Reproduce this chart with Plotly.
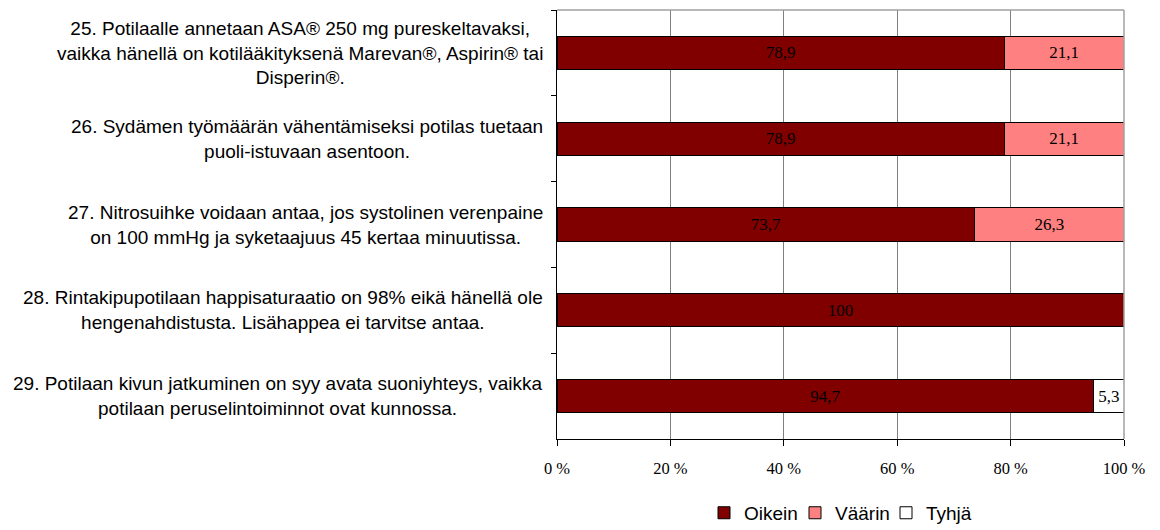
import plotly.graph_objects as go

categories = ["25", "26", "27", "28", "29"]
labels = [
    "25. Potilaalle annetaan ASA® 250 mg pureskeltavaksi,<br>vaikka hänellä on kotilääkityksenä Marevan®, Aspirin® tai<br>Disperin®.",
    "26. Sydämen työmäärän vähentämiseksi potilas tuetaan<br>puoli-istuvaan asentoon.",
    "27. Nitrosuihke voidaan antaa, jos systolinen verenpaine<br>on 100 mmHg ja syketaajuus 45 kertaa minuutissa.",
    "28. Rintakipupotilaan happisaturaatio on 98% eikä hänellä ole<br>hengenahdistusta. Lisähappea ei tarvitse antaa.",
    "29. Potilaan kivun jatkuminen on syy avata suoniyhteys, vaikka<br>potilaan peruselintoiminnot ovat kunnossa.",
]
oikein = [78.9, 78.9, 73.7, 100, 94.7]
vaarin = [21.1, 21.1, 26.3, 0, 0]
tyhja = [0, 0, 0, 0, 5.3]
tick_vals = [0, 20, 40, 60, 80, 100]
tick_text = ["0 %", "20 %", "40 %", "60 %", "80 %", "100 %"]

def fmt(v):
    return "" if v == 0 else (str(int(v)) if v == int(v) else f"{v:.1f}".replace(".", ","))

fig = go.Figure()
for name, vals, col in [("Oikein", oikein, "#800000"), ("Väärin", vaarin, "#FF8080"), ("Tyhjä", tyhja, "#FFFFFF")]:
    fig.add_trace(go.Bar(
        y=categories, x=vals, name=name, orientation="h",
        marker=dict(color=col, line=dict(color="black", width=1)),
        text=[fmt(v) for v in vals], textposition="inside", insidetextanchor="middle",
        textangle=0, textfont=dict(family="Liberation Serif", size=17, color="black"),
        hoverinfo="x+name",
    ))

for i, lab in enumerate(labels):
    fig.add_annotation(x=0, xref="paper", y=i, yref="y", xanchor="right", xshift=-12,
                       text=lab, align="center", showarrow=False,
                       font=dict(family="Liberation Sans", size=19, color="#000000"))

fig.add_shape(type="line", xref="paper", yref="paper", x0=0, x1=1, y0=1, y1=1,
              line=dict(color="#A0A0A0", width=1.5))
fig.add_shape(type="line", xref="paper", yref="paper", x0=1, x1=1, y0=0, y1=1,
              line=dict(color="#A0A0A0", width=1.5))

fig.update_layout(
    width=1152, height=522, barmode="stack", bargap=0.615,
    margin=dict(l=549, r=36, t=2, b=91, autoexpand=False),
    plot_bgcolor="white", paper_bgcolor="white",
    font=dict(family="Liberation Sans", color="black"),
    xaxis=dict(range=[0, 100], tickvals=tick_vals, ticktext=tick_text,
               showgrid=True, gridcolor="#808080", gridwidth=1,
               showline=True, linecolor="black", linewidth=1,
               ticks="outside", ticklen=6, tickcolor="black",
               ticklabelstandoff=8,
               tickfont=dict(family="Liberation Serif", size=16.5, color="black"),
               zeroline=False, automargin=False),
    yaxis=dict(type="category", categoryorder="array", categoryarray=categories,
               range=[4.5, -0.5], autorange=False,
               showticklabels=False, ticks="outside", ticklen=5, tickcolor="black",
               tickson="boundaries", showline=True, linecolor="black", linewidth=1,
               showgrid=False, automargin=False),
    legend=dict(orientation="h", x=0.5, xanchor="center", y=-0.128, yanchor="top",
                font=dict(family="Liberation Sans", size=19, color="black"),
                traceorder="normal", itemwidth=30, entrywidth=46, entrywidthmode="pixels"),
    showlegend=True,
)

fig.write_html("out.html")
